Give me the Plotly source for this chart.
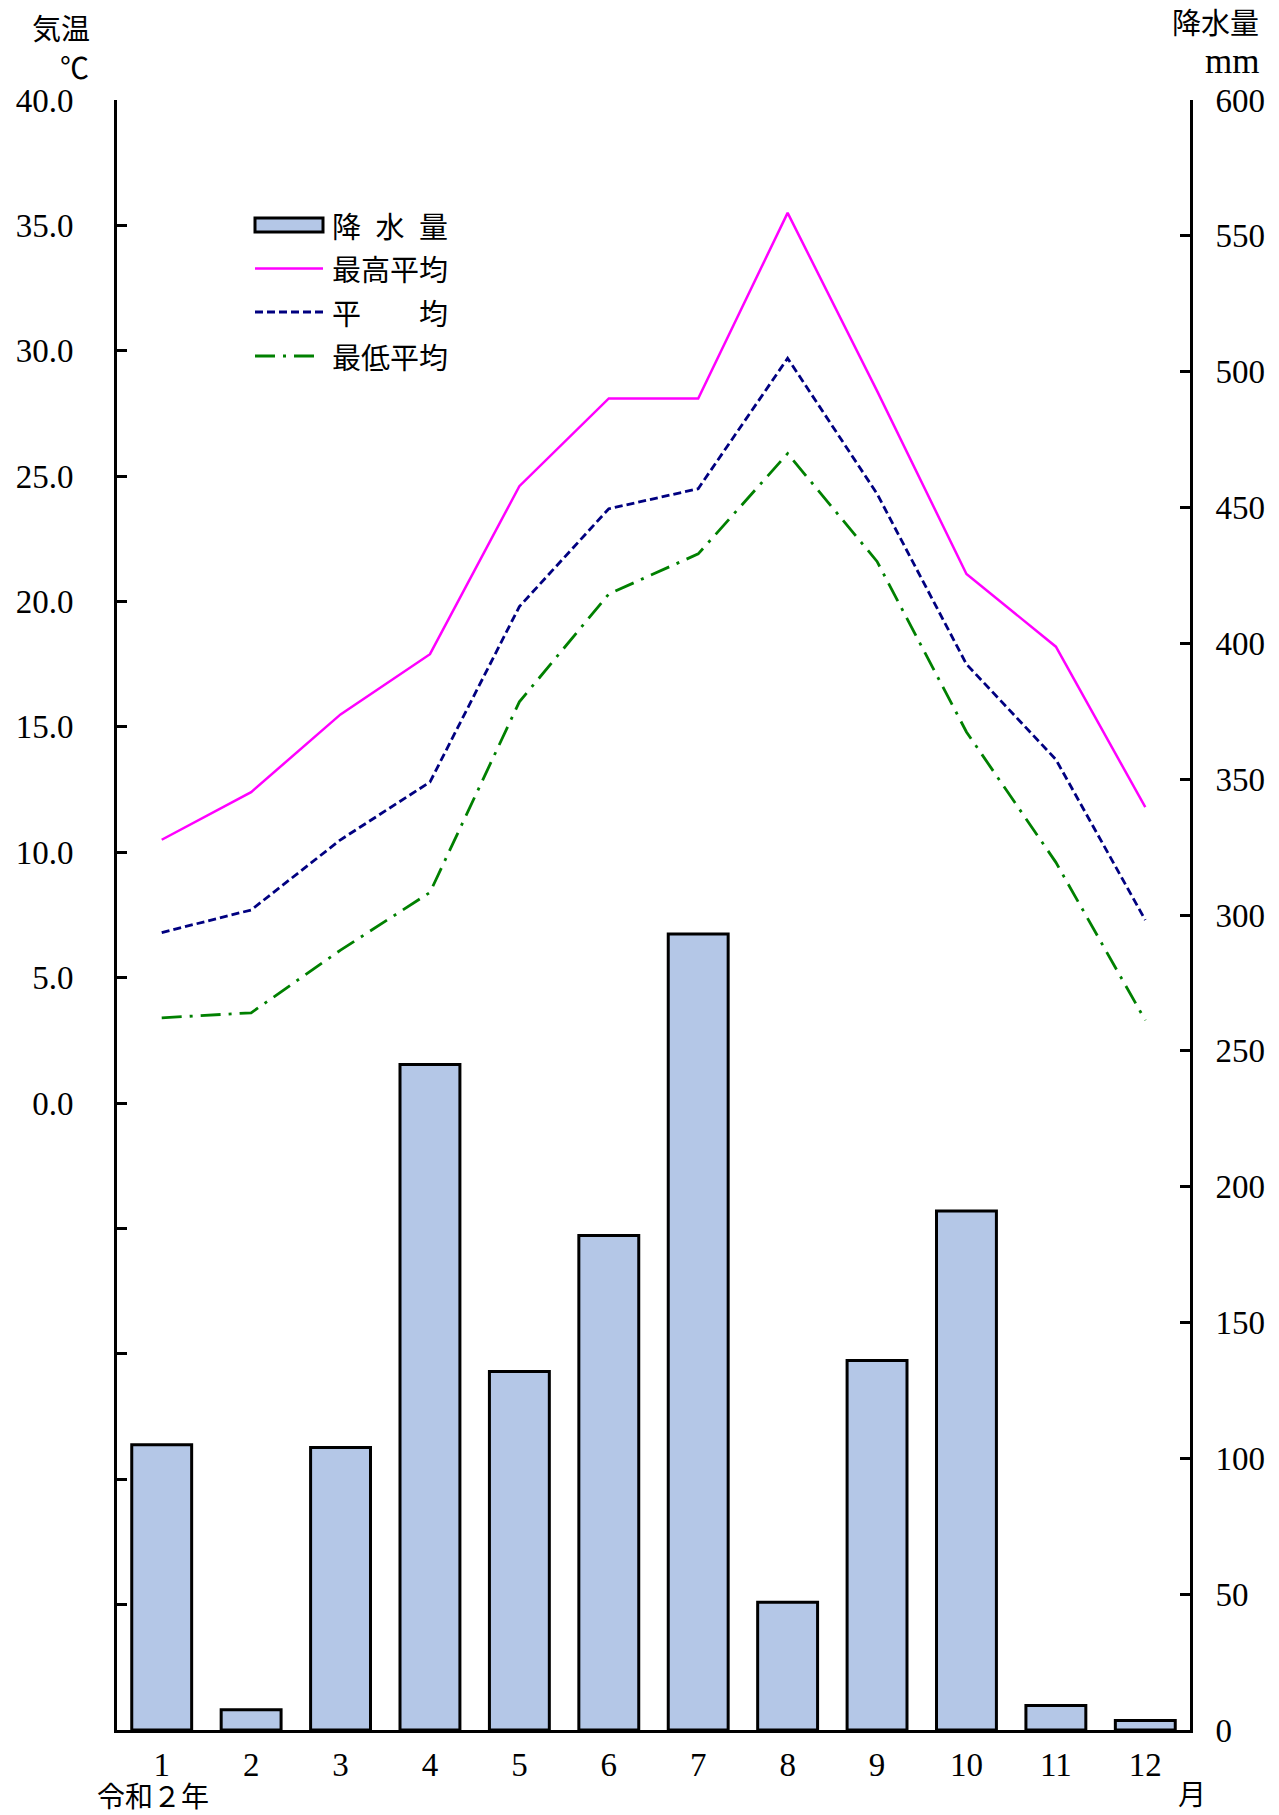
import plotly.graph_objects as go

# ---------------- data ----------------
months = ["1", "2", "3", "4", "5", "6", "7", "8", "9", "10", "11", "12"]
rain_mm = [105, 7.5, 104, 245, 132, 182, 293, 47, 136, 191, 9, 3.5]
temp_max = [10.5, 12.4, 15.5, 17.9, 24.6, 28.1, 28.1, 35.5, 28.4, 21.1, 18.2, 11.8]
temp_mean = [6.8, 7.7, 10.5, 12.8, 19.8, 23.7, 24.5, 29.7, 24.3, 17.5, 13.7, 7.3]
temp_min = [3.4, 3.6, 6.1, 8.4, 16.0, 20.3, 21.9, 25.9, 21.6, 14.8, 9.6, 3.3]

temp_ticks = [-20, -15, -10, -5, 0, 5, 10, 15, 20, 25, 30, 35, 40]
temp_labels = ["", "", "", "", "0.0", "5.0", "10.0", "15.0", "20.0", "25.0", "30.0", "35.0", "40.0"]
rain_ticks = [0, 50, 100, 150, 200, 250, 300, 350, 400, 450, 500, 550, 600]

legend_names = ["降\u2002水\u2002量", "最高平均", "平\u3000\u3000均", "最低平均"]

# ---------------- layout geometry ----------------
W, H = 1279, 1815
L, R, T, B = 117, 89, 100, 85
PW, PH = W - L - R, H - T - B

def fx(px):
    return (px - L) / PW

def fy(py):
    return (H - B - py) / PH

NUM_FONT = "Liberation Serif, Noto Sans CJK JP, serif"
JP_FONT = "Noto Sans CJK JP, sans-serif"
BAR_FILL = "#B4C7E7"
C_MAX = "#FF00FF"
C_MEAN = "#000080"
C_MIN = "#008000"
NUM_SIZE = 33

fig = go.Figure()

fig.add_trace(go.Bar(
    x=months, y=rain_mm, yaxis="y", name=legend_names[0],
    marker=dict(color=BAR_FILL, line=dict(color="black", width=3)),
    width=0.67, showlegend=False,
))
fig.add_trace(go.Scatter(
    x=months, y=temp_max, yaxis="y2", mode="lines", name=legend_names[1],
    line=dict(color=C_MAX, width=2.5), showlegend=False,
))
fig.add_trace(go.Scatter(
    x=months, y=temp_mean, yaxis="y2", mode="lines", name=legend_names[2],
    line=dict(color=C_MEAN, width=2.8, dash="8px,4px"), showlegend=False,
))
fig.add_trace(go.Scatter(
    x=months, y=temp_min, yaxis="y2", mode="lines", name=legend_names[3],
    line=dict(color=C_MIN, width=2.8, dash="20px,8px,3px,8px"), showlegend=False,
))

# ---------------- custom legend ----------------
shapes = []
sx0, sx1 = fx(255), fx(323)
shapes.append(dict(type="rect", xref="paper", yref="paper",
                   x0=sx0, x1=sx1, y0=fy(232), y1=fy(218),
                   fillcolor=BAR_FILL, line=dict(color="black", width=3)))
shapes.append(dict(type="line", xref="paper", yref="paper",
                   x0=sx0, x1=sx1, y0=fy(268.5), y1=fy(268.5),
                   line=dict(color=C_MAX, width=2.5)))
shapes.append(dict(type="line", xref="paper", yref="paper",
                   x0=sx0, x1=sx1, y0=fy(312), y1=fy(312),
                   line=dict(color=C_MEAN, width=2.8, dash="8px,4px")))
shapes.append(dict(type="line", xref="paper", yref="paper",
                   x0=sx0, x1=fx(317), y0=fy(356), y1=fy(356),
                   line=dict(color=C_MIN, width=2.8, dash="20px,8px,3px,8px")))

annotations = []
for name, py in zip(legend_names, [225, 268.5, 312, 356]):
    annotations.append(dict(text=name, xref="paper", yref="paper",
                            x=fx(330), y=fy(py), xanchor="left", yanchor="middle",
                            showarrow=False, font=dict(family=JP_FONT, size=29, color="black")))

# axis titles / unit labels
def txt(text, px, py, xanchor="center", size=29, family=JP_FONT):
    annotations.append(dict(text=text, xref="paper", yref="paper",
                            x=fx(px), y=fy(py), xanchor=xanchor, yanchor="middle",
                            showarrow=False, borderpad=0,
                            font=dict(family=family, size=size, color="black")))

txt("気温", 91, 27, xanchor="right")
txt("℃", 90, 66, xanchor="right")
txt("降水量", 1260, 21, xanchor="right")
txt("mm", 1260, 62, xanchor="right", family=NUM_FONT, size=35)
txt("令和２年", 153, 1795, size=28)
txt("月", 1192, 1793, size=28)

fig.update_layout(
    width=W, height=H,
    margin=dict(l=L, r=R, t=T, b=B, autoexpand=False),
    template="none",
    paper_bgcolor="white", plot_bgcolor="white",
    showlegend=False,
    font=dict(family=NUM_FONT, size=NUM_SIZE, color="black"),
    xaxis=dict(
        type="category", range=[-0.5, 11.5], showgrid=False, zeroline=False,
        showline=True, linecolor="black", linewidth=3, ticks="",
        tickfont=dict(family=NUM_FONT, size=NUM_SIZE), ticklabelstandoff=3,
        automargin=False, fixedrange=True,
    ),
    yaxis=dict(
        side="right", range=[0, 600], tickvals=rain_ticks,
        showgrid=False, zeroline=False, showline=True, linecolor="black", linewidth=3,
        ticks="inside", ticklen=10, tickwidth=2.5, tickcolor="black",
        tickfont=dict(family=NUM_FONT, size=NUM_SIZE), ticklabelstandoff=16,
        automargin=False, fixedrange=True,
    ),
    yaxis2=dict(
        side="left", overlaying="y", range=[-25, 40],
        tickvals=temp_ticks, ticktext=temp_labels,
        showgrid=False, zeroline=False, showline=True, linecolor="black", linewidth=3,
        ticks="inside", ticklen=10, tickwidth=2.5, tickcolor="black",
        tickfont=dict(family=NUM_FONT, size=NUM_SIZE), ticklabelstandoff=34,
        automargin=False, fixedrange=True,
    ),
    shapes=shapes,
    annotations=annotations,
)

fig.write_html(
    "out.html",
    config={"displayModeBar": False},
    post_script="document.body.style.margin='0';document.body.style.padding='0';",
)
